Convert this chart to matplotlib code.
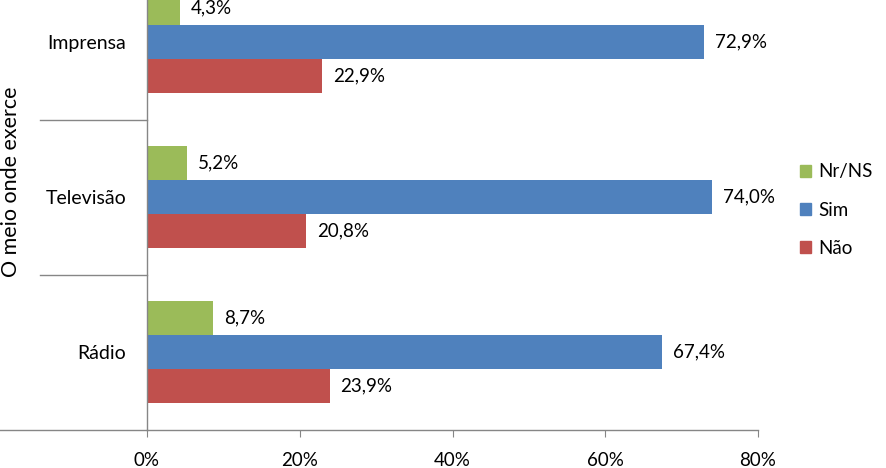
import matplotlib
matplotlib.use("Agg")
import matplotlib.pyplot as plt
import matplotlib.transforms as mtransforms
import numpy as np

categories = ["Rádio", "Televisão", "Imprensa"]
series_names = ["Nr/NS", "Sim", "Não"]
nrns = [8.7, 5.2, 4.3]
sim = [67.4, 74.0, 72.9]
nao = [23.9, 20.8, 22.9]
xticks = [0, 20, 40, 60, 80]
xtick_labels = ["0%", "20%", "40%", "60%", "80%"]

colors = {"Nr/NS": "#9BBB59", "Sim": "#4F81BD", "Não": "#C0504D"}
axis_color = "#868686"
font = ["Lato", "DejaVu Sans"]
plt.rcParams["font.family"] = font

W, H = 886, 468
fig = plt.figure(figsize=(W / 100, H / 100), dpi=100)
x0, x1 = 147, 758
ybot = 429.5
unit = 155
ytop = ybot - 3 * unit
ax = fig.add_axes([x0 / W, (H - ybot) / H, (x1 - x0) / W, (ybot - ytop) / H])

y = np.arange(len(categories))
bh = 0.219
data = {"Nr/NS": nrns, "Sim": sim, "Não": nao}
offsets = {"Nr/NS": bh, "Sim": 0.0, "Não": -bh}
for name in series_names:
    vals = data[name]
    ax.barh(y + offsets[name], vals, height=bh, color=colors[name], label=name)
    for yi, v in zip(y, vals):
        ax.annotate(f"{v:.1f}%".replace(".", ","), xy=(v, yi + offsets[name]),
                    xytext=(11, 0), textcoords="offset pixels",
                    va="center", ha="left", fontsize=13.5, color="#000000")

ax.set_xlim(0, 80)
ax.set_ylim(-0.5, 2.5)
ax.set_xticks(xticks)
ax.set_xticklabels(xtick_labels, fontsize=13.5)
ax.tick_params(axis="x", direction="out", length=5, color=axis_color, pad=11)
ax.set_yticks(y)
ax.set_yticklabels(categories, fontsize=14)
ax.tick_params(axis="y", length=0, pad=15)

for s in ["top", "right"]:
    ax.spines[s].set_visible(False)
for s in ["left", "bottom"]:
    ax.spines[s].set_color(axis_color)
    ax.spines[s].set_linewidth(1)

trans = mtransforms.blended_transform_factory(ax.transAxes, ax.transData)
sep_left = -(x0 - 40) / (x1 - x0)
for b in [0.5, 1.5]:
    ax.plot([sep_left, 0], [b, b], transform=trans, color=axis_color, lw=1, clip_on=False)
ax.plot([-x0 / (x1 - x0), 0], [-0.5, -0.5], transform=trans, color=axis_color, lw=1, clip_on=False)

fig.text(11.5 / W, 1 - 182 / H, "O meio onde exerce", rotation=90, ha="center", va="center", fontsize=15.5)

handles = [plt.Rectangle((0, 0), 1, 1, color=colors[n]) for n in series_names]
fig.legend(handles, series_names, loc="center left", bbox_to_anchor=(800 / W, 1 - 210 / H),
           frameon=False, fontsize=13.5, handlelength=0.6, handleheight=0.6,
           labelspacing=1.12, handletextpad=0.4, borderpad=0, borderaxespad=0)

fig.savefig("out.png", dpi=100)
